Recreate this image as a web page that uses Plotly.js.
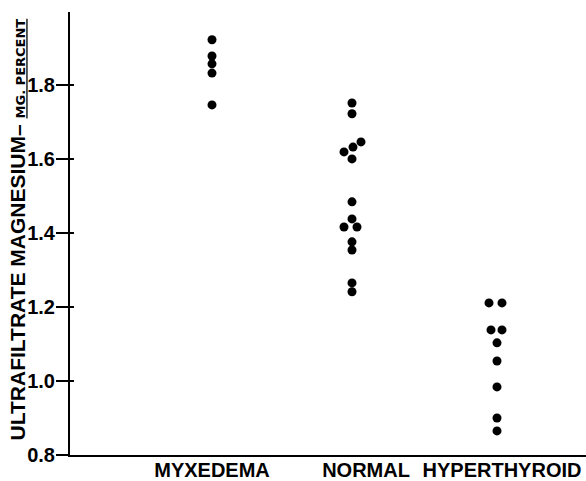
<!DOCTYPE html>
<html>
<head>
<meta charset="utf-8">
<script src="https://cdn.plot.ly/plotly-3.0.1.min.js"></script>
<style>html,body{margin:0;padding:0;background:#fff;}#chart{width:586px;height:481px;}</style>
</head>
<body>
<div id="chart"></div>
<script>
// Group labels and their label positions on the x scale
const categories = ["MYXEDEMA", "NORMAL", "HYPERTHYROID"];
const categoryLabelX = [1.42, 2.96, 4.32];

// Ultrafiltrate magnesium (mg. percent)
const myxedemaX = [1.42, 1.42, 1.42, 1.42, 1.42];
const myxedemaY = [1.922, 1.878, 1.857, 1.832, 1.746];

const normalX = [2.82, 2.82, 2.91, 2.83, 2.74, 2.82, 2.82, 2.82, 2.74, 2.87, 2.82, 2.82, 2.82, 2.82];
const normalY = [1.751, 1.722, 1.646, 1.632, 1.619, 1.600, 1.484, 1.438, 1.416, 1.416, 1.376, 1.354, 1.265, 1.241];

const hyperX = [4.19, 4.32, 4.21, 4.32, 4.27, 4.27, 4.27, 4.27, 4.27];
const hyperY = [1.211, 1.211, 1.138, 1.138, 1.103, 1.054, 0.984, 0.900, 0.865];

const yTicks = [0.8, 1.0, 1.2, 1.4, 1.6, 1.8];
const yTickText = ["0.8", "1.0", "1.2", "1.4", "1.6", "1.8"];

const marker = {color: "#000", size: 9, line: {width: 0}};
const font = "Liberation Sans, Arial, sans-serif";

const traces = [
  {x: myxedemaX, y: myxedemaY, name: categories[0], type: "scatter", mode: "markers", marker: marker, hoverinfo: "y"},
  {x: normalX, y: normalY, name: categories[1], type: "scatter", mode: "markers", marker: marker, hoverinfo: "y"},
  {x: hyperX, y: hyperY, name: categories[2], type: "scatter", mode: "markers", marker: marker, hoverinfo: "y"},
  {x: [], y: [], yaxis: "y2", type: "scatter", mode: "markers", showlegend: false, hoverinfo: "skip"}
];

const layout = {
  width: 586, height: 481,
  margin: {l: 70, r: 0, t: 12, b: 26},
  paper_bgcolor: "#fff", plot_bgcolor: "#fff",
  showlegend: false,
  font: {family: font, color: "#000"},
  xaxis: {
    range: [0, 5.16], showgrid: false, zeroline: false,
    showline: true, linecolor: "#000", linewidth: 2,
    tickmode: "array", tickvals: categoryLabelX, ticktext: categories,
    ticks: "", ticklabelstandoff: -4,
    tickfont: {family: font, size: 20, color: "#000", weight: "bold"},
    fixedrange: true
  },
  yaxis: {
    range: [0.8, 1.997], showgrid: false, zeroline: false,
    showline: true, linecolor: "#000", linewidth: 2,
    tickmode: "array", tickvals: yTicks, ticktext: yTickText,
    ticks: "outside", ticklen: 12, tickwidth: 2, tickcolor: "#000",
    ticklabelstandoff: -3,
    tickfont: {family: font, size: 20, color: "#000", weight: "bold"},
    fixedrange: true
  },
  yaxis2: {
    overlaying: "y", side: "left", range: [0.8, 1.997],
    showgrid: false, zeroline: false, showline: false,
    tickmode: "array", tickvals: yTicks.slice(1),
    ticks: "inside", ticklen: 4, tickwidth: 2, tickcolor: "#000",
    showticklabels: false, fixedrange: true
  },
  annotations: [{
    xref: "paper", yref: "paper", x: -0.102, y: 0.51,
    xanchor: "center", yanchor: "middle", textangle: -90, showarrow: false,
    text: "ULTRAFILTRATE MAGNESIUM– <u><span style=\"font-family:DejaVu Sans;font-size:13px\">MG. PERCENT</span></u>",
    font: {family: font, size: 21, color: "#000", weight: "bold"}
  }]
};

Plotly.newPlot("chart", traces, layout, {displayModeBar: false, staticPlot: true});
</script>
</body>
</html>
